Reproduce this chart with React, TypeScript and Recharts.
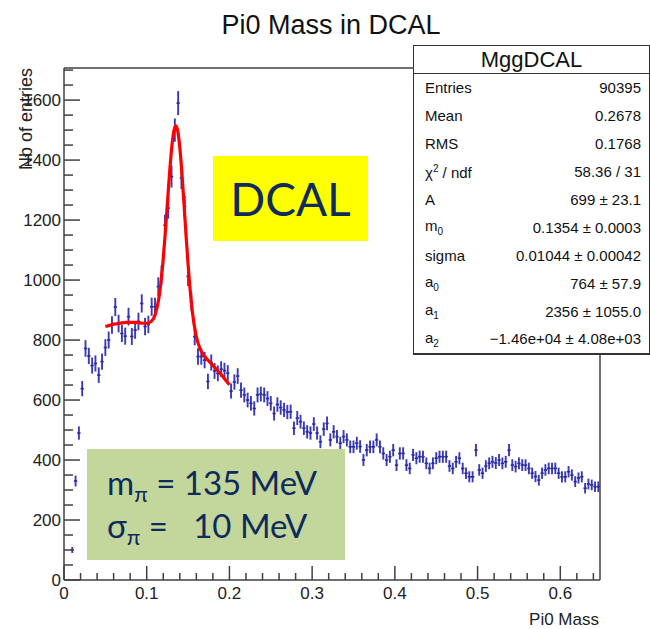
import React from "react";
import { ComposedChart, Scatter, Line, XAxis, YAxis, ErrorBar } from "recharts";

// histogram: 0.004 wide bins from 0 to 0.648
const BIN_WIDTH = 0.004;
const HIST_COUNTS = [
  0, 0, 100, 330, 490, 638, 772, 747, 715, 722,
  683, 728, 775, 800, 850, 910, 855, 822, 813, 878,
  812, 833, 862, 922, 845, 852, 911, 911, 978, 1017,
  1183, 1240, 1345, 1500, 1590, 1340, 1245, 1012, 928, 811,
  745, 745, 733, 662, 725, 697, 689, 703, 698, 690,
  630, 660, 680, 633, 617, 600, 589, 572, 617, 620,
  617, 605, 589, 555, 585, 575, 567, 560, 561, 506,
  540, 528, 506, 494, 490, 520, 490, 461, 503, 522,
  467, 494, 478, 456, 478, 467, 444, 444, 456, 445,
  400, 433, 444, 444, 467, 444, 422, 400, 411, 433,
  383, 422, 422, 383, 372, 417, 406, 411, 411, 389,
  372, 389, 406, 411, 411, 411, 380, 372, 394, 406,
  372, 356, 344, 344, 433, 367, 356, 380, 389, 394,
  390, 400, 389, 394, 433, 383, 378, 389, 383, 383,
  372, 356, 345, 333, 356, 367, 372, 372, 372, 356,
  344, 344, 361, 350, 328, 340, 344, 306, 320, 317,
  311, 311,
];

// red fit curve
const FIT_X = [
  0.05, 0.055, 0.06, 0.065, 0.07, 0.075, 0.08, 0.085, 0.09, 0.095,
  0.1, 0.105, 0.11, 0.115, 0.1175, 0.12, 0.1225, 0.125, 0.1275, 0.13,
  0.1325, 0.135, 0.1375, 0.14, 0.1425, 0.145, 0.1475, 0.15, 0.1525, 0.155,
  0.16, 0.165, 0.17, 0.175, 0.18, 0.185, 0.19, 0.195, 0.2,
];
const FIT_Y = [
  845, 849, 853, 855, 857, 859, 859, 859, 858, 856,
  856, 861, 883, 945, 1000, 1072, 1159, 1256, 1352, 1435,
  1492, 1515, 1497, 1442, 1358, 1257, 1151, 1052, 967, 898,
  811, 768, 746, 730, 715, 700, 685, 668, 651,
];

const X_MAJOR = [0, 0.1, 0.2, 0.3, 0.4, 0.5, 0.6];
const X_LABELS = ["0", "0.1", "0.2", "0.3", "0.4", "0.5", "0.6"];
const X_MINOR = [
  0.02, 0.04, 0.06, 0.08, 0.12, 0.14, 0.16, 0.18, 0.22, 0.24, 0.26, 0.28,
  0.32, 0.34, 0.36, 0.38, 0.42, 0.44, 0.46, 0.48, 0.52, 0.54, 0.56, 0.58,
  0.62, 0.64,
];
const Y_MAJOR = [0, 200, 400, 600, 800, 1000, 1200, 1400, 1600];
const Y_MINOR = [
  50, 100, 150, 250, 300, 350, 450, 500, 550, 650, 700, 750, 850, 900, 950,
  1050, 1100, 1150, 1250, 1300, 1350, 1450, 1500, 1550, 1650, 1700,
];

const STATS = [
  ["Entries", "90395"],
  ["Mean", "0.2678"],
  ["RMS", "0.1768"],
  ["χ2 / ndf", "58.36 / 31"],
  ["A", "699 ± 23.1"],
  ["m0", "0.1354 ± 0.0003"],
  ["sigma", "0.01044 ± 0.00042"],
  ["a0", "764 ± 57.9"],
  ["a1", "2356 ± 1055.0"],
  ["a2", "−1.46e+04 ± 4.08e+03"],
];

const histData = HIST_COUNTS.map((c, i) => ({
  x: (i + 0.5) * BIN_WIDTH,
  y: c,
  ey: Math.sqrt(c),
  ex: BIN_WIDTH / 2,
})).filter((d) => d.y > 0);

const fitData = FIT_X.map((x, i) => ({ x, y: FIT_Y[i] }));

const FONT = "'Liberation Sans', Arial, sans-serif";
const NAVY = "#0e2b5c";
const FRAME = "#404040";

const isMajor = (v: number, list: number[]) => list.some((m) => Math.abs(m - v) < 1e-9);

function XTick(props: any) {
  const { x, y, payload } = props;
  const v = payload.value;
  const major = isMajor(v, X_MAJOR);
  const idx = X_MAJOR.findIndex((m) => Math.abs(m - v) < 1e-9);
  return (
    <g>
      <line x1={x} y1={y} x2={x} y2={y - (major ? 14 : 7)} stroke={FRAME} strokeWidth={1.5} />
      {major && (
        <text x={x} y={y + 19} textAnchor="middle" fontSize={17} fontFamily={FONT} fill="#222">
          {X_LABELS[idx]}
        </text>
      )}
    </g>
  );
}

function YTick(props: any) {
  const { x, y, payload } = props;
  const v = payload.value;
  const major = isMajor(v, Y_MAJOR);
  return (
    <g>
      <line x1={x} y1={y} x2={x + (major ? 16 : 9)} y2={y} stroke={FRAME} strokeWidth={1.5} />
      {major && (
        <text x={x - 3} y={y + 6} textAnchor="end" fontSize={17} fontFamily={FONT} fill="#222">
          {v}
        </text>
      )}
    </g>
  );
}

function StatLabel({ s }: { s: string }) {
  if (s === "χ2 / ndf")
    return (
      <span>
        χ<sup style={{ fontSize: 10 }}>2</sup> / ndf
      </span>
    );
  if (/^[ma][0-2]$/.test(s))
    return (
      <span>
        {s[0]}
        <sub style={{ fontSize: 10 }}>{s[1]}</sub>
      </span>
    );
  return <span>{s}</span>;
}

export default function App() {
  const xTicks = [...X_MAJOR, ...X_MINOR].sort((a, b) => a - b);
  const yTicks = [...Y_MAJOR, ...Y_MINOR].sort((a, b) => a - b);
  return (
    <div style={{ position: "absolute", left: 0, top: 0, width: 650, height: 629, background: "#fff" }}>
      <ComposedChart width={650} height={629} margin={{ top: 67, right: 49, bottom: 48, left: 63 }}>
        <XAxis
          xAxisId="b"
          type="number"
          dataKey="x"
          domain={[0, 0.648]}
          allowDataOverflow
          ticks={xTicks}
          interval={0}
          tick={<XTick />}
          tickLine={false}
          tickSize={0}
          tickMargin={0}
          height={1}
          axisLine={{ stroke: FRAME, strokeWidth: 1.5 }}
        />
        <XAxis
          xAxisId="t"
          orientation="top"
          type="number"
          domain={[0, 0.648]}
          tick={false}
          tickLine={false}
          height={1}
          axisLine={{ stroke: FRAME, strokeWidth: 1.5 }}
        />
        <YAxis
          yAxisId="l"
          type="number"
          dataKey="y"
          domain={[0, 1707]}
          allowDataOverflow
          ticks={yTicks}
          interval={0}
          tick={<YTick />}
          tickLine={false}
          tickSize={0}
          tickMargin={0}
          width={1}
          axisLine={{ stroke: FRAME, strokeWidth: 1.5 }}
        />
        <YAxis
          yAxisId="r"
          orientation="right"
          type="number"
          domain={[0, 1707]}
          tick={false}
          tickLine={false}
          width={1}
          axisLine={{ stroke: FRAME, strokeWidth: 1.5 }}
        />
        <Scatter
          data={histData}
          dataKey="y"
          xAxisId="b"
          yAxisId="l"
          shape={() => <g />}
          isAnimationActive={false}
        >
          <ErrorBar dataKey="ey" direction="y" width={0} stroke="#3a3ab5" strokeWidth={1.9} />
          <ErrorBar dataKey="ex" direction="x" width={0} stroke="#2a2a9a" strokeWidth={1.6} />
        </Scatter>
        <Line
          data={fitData}
          dataKey="y"
          xAxisId="b"
          yAxisId="l"
          type="monotone"
          stroke="#ff0000"
          strokeWidth={3.2}
          dot={false}
          activeDot={false}
          isAnimationActive={false}
        />
      </ComposedChart>

      <svg width={650} height={629} style={{ position: "absolute", left: 0, top: 0, pointerEvents: "none" }}>
        <text x={331} y={34} textAnchor="middle" fontSize={27} fontFamily={FONT} fill="#111">
          Pi0 Mass in DCAL
        </text>
        <text
          transform="translate(32, 68) rotate(-90)"
          textAnchor="end"
          fontSize={18}
          fontFamily={FONT}
          fill="#222"
        >
          Nb of entries
        </text>
        <text x={599} y={625} textAnchor="end" fontSize={17} fontFamily={FONT} fill="#222">
          Pi0 Mass
        </text>
      </svg>

      <div
        style={{
          position: "absolute",
          left: 213,
          top: 156,
          width: 155,
          height: 85,
          background: "#ffff00",
          display: "flex",
          alignItems: "center",
          justifyContent: "center",
          fontFamily: "Lato, sans-serif",
          fontSize: 46,
          color: NAVY,
        }}
      >
        DCAL
      </div>

      <div
        style={{
          position: "absolute",
          left: 87,
          top: 449,
          width: 258,
          height: 111,
          background: "#c3d69b",
          fontFamily: "Lato, sans-serif",
          fontSize: 33,
          color: NAVY,
          whiteSpace: "pre",
        }}
      >
        <div style={{ position: "absolute", left: 20, top: 14, lineHeight: "38px" }}>
          m<sub style={{ fontSize: 22, verticalAlign: "-7px" }}>π</sub> = 135 MeV
        </div>
        <div style={{ position: "absolute", left: 20, top: 57, lineHeight: "38px" }}>
          σ<sub style={{ fontSize: 22, verticalAlign: "-7px" }}>π</sub> =   10 MeV
        </div>
      </div>

      <div
        style={{
          position: "absolute",
          left: 413,
          top: 45,
          width: 235,
          height: 307,
          background: "#fff",
          border: "1px solid #333",
          borderBottomWidth: 2,
          fontFamily: FONT,
          color: "#111",
        }}
      >
        <div
          style={{
            height: 27,
            borderBottom: "1px solid #333",
            textAlign: "center",
            fontSize: 22,
            lineHeight: "27px",
          }}
        >
          MggDCAL
        </div>
        {STATS.map(([k, v]) => (
          <div
            key={k}
            style={{
              height: 27.9,
              display: "flex",
              justifyContent: "space-between",
              alignItems: "center",
              padding: "0 8px 0 11px",
              fontSize: 15,
            }}
          >
            <StatLabel s={k} />
            <span>{v}</span>
          </div>
        ))}
      </div>
    </div>
  );
}
